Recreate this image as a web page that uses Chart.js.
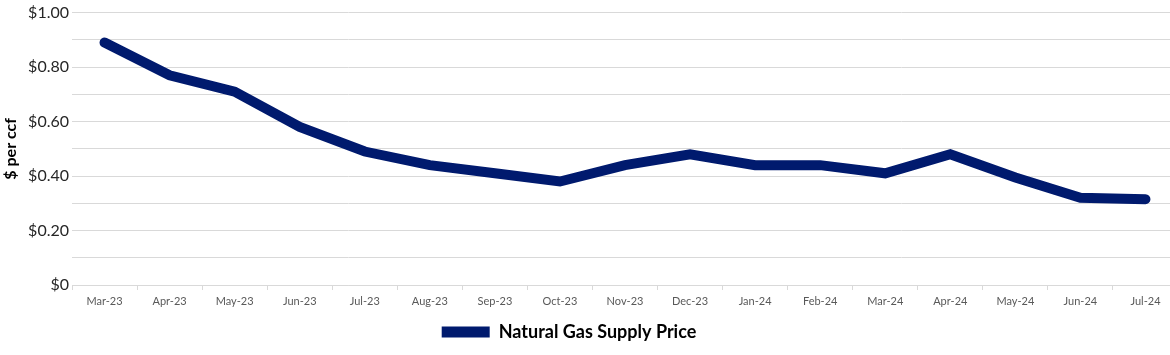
<!DOCTYPE html>
<html>
<head>
<meta charset="utf-8">
<script src="https://cdn.jsdelivr.net/npm/chart.js@4"></script>
<style>
html,body{margin:0;padding:0;background:#fff;overflow:hidden;}
#wrap{width:1170px;height:355px;overflow:hidden;}
</style>
</head>
<body>
<div id="wrap"><canvas id="c" width="1178" height="355"></canvas></div>
<script>
const categories = ["Mar-23","Apr-23","May-23","Jun-23","Jul-23","Aug-23","Sep-23","Oct-23","Nov-23","Dec-23","Jan-24","Feb-24","Mar-24","Apr-24","May-24","Jun-24","Jul-24"];
const supplyPrice = [0.89,0.77,0.71,0.58,0.49,0.44,0.41,0.38,0.44,0.48,0.44,0.44,0.41,0.48,0.395,0.32,0.315];
const seriesName = "Natural Gas Supply Price";
const yTitle = "$ per ccf";

const navy = "#001a6e";
const fontFam = "Lato, 'Open Sans', sans-serif";

const legendShift = {
  id: 'legendShift',
  afterLayout(chart) {
    if (chart.legend) { chart.legend.left -= 20; chart.legend.right -= 20; }
  }
};

new Chart(document.getElementById('c'), {
  type: 'line',
  data: {
    labels: categories,
    datasets: [{
      label: seriesName,
      data: supplyPrice,
      borderColor: navy,
      backgroundColor: navy,
      borderWidth: 10,
      borderCapStyle: 'round',
      borderJoinStyle: 'miter',
      pointRadius: 0,
      pointHoverRadius: 0,
      tension: 0,
      fill: false
    }]
  },
  plugins: [legendShift],
  options: {
    responsive: false,
    animation: false,
    devicePixelRatio: 1,
    layout: { padding: { top: 1, right: 0, left: 0, bottom: 4 } },
    plugins: {
      tooltip: { enabled: false },
      legend: {
        position: 'bottom',
        labels: {
          boxWidth: 48,
          boxHeight: 11,
          padding: 10,
          color: '#000',
          font: { family: fontFam, size: 18, weight: 'bold' },
          generateLabels: (chart) => chart.data.datasets.map((ds, i) => ({
            text: ds.label, fillStyle: navy, strokeStyle: navy, lineWidth: 0,
            hidden: false, datasetIndex: i
          }))
        }
      }
    },
    scales: {
      x: {
        offset: true,
        grid: { display: true, drawOnChartArea: false, drawTicks: true, tickLength: 5, color: '#d9d9d9', offset: true },
        border: { display: true, color: '#d9d9d9' },
        ticks: { color: '#595959', font: { family: fontFam, size: 11 }, maxRotation: 0, autoSkip: false, padding: 5 },
        afterFit: (s) => { s.height = 28; }
      },
      y: {
        min: 0, max: 1,
        grid: { color: '#d9d9d9', drawTicks: false },
        border: { display: false },
        ticks: {
          stepSize: 0.1,
          color: '#262626',
          padding: 3,
          font: { family: fontFam, size: 16 },
          callback: (v) => {
            const r = Math.round(v * 10);
            if (r % 2 !== 0) return '';
            if (r === 0) return '$0';
            return '$' + (r / 10).toFixed(2);
          }
        },
        title: { display: true, text: yTitle, color: '#000', font: { family: fontFam, size: 16, weight: 'bold' }, padding: { top: 1, bottom: 4 } },
        afterFit: (s) => { s.width = 72; }
      }
    }
  }
});
</script>
</body>
</html>
